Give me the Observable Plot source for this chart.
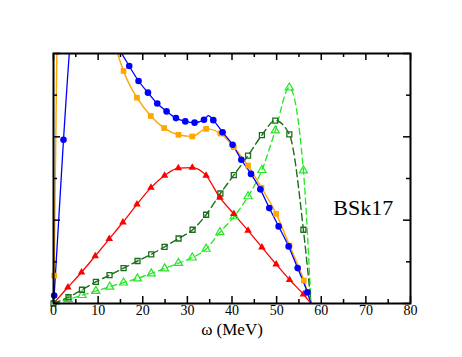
<!DOCTYPE html>
<html><head><meta charset="utf-8">
<script src="https://cdn.jsdelivr.net/npm/d3@7"></script>
<script src="https://cdn.jsdelivr.net/npm/@observablehq/plot@0.6"></script>
<style>body{margin:0;background:#fff}</style>
</head><body><div id="chart"></div>
<script>
// ---- tick values ----
const xMajorTicks = [0, 10, 20, 30, 40, 50, 60, 70, 80];
const xMinorTicks = [5, 15, 25, 35, 45, 55, 65, 75];
const yMajorTicks = [0, 2, 4, 6];
const yMinorTicks = [1, 3, 5];

// ---- series (> 6 lies above the frame) ----
const blueX = [0.15, 2.24, 4.3, 6.4, 8.5, 10.6, 12.7, 14.8, 16.97, 19.06, 21.17, 23.25, 25.34, 27.44, 29.53, 31.61, 33.72, 35.81, 37.89, 40.13, 42.09, 44.26, 46.35, 48.36, 50.45, 52.69, 54.71, 56.88];
const blueY = [0.19, 3.93, 7.0, 8.3, 8.0, 7.3, 6.6, 6.1, 5.70, 5.34, 5.06, 4.80, 4.61, 4.45, 4.37, 4.34, 4.41, 4.40, 4.11, 3.81, 3.45, 3.11, 2.74, 2.29, 1.85, 1.37, 0.85, 0.27];
const blueLineOnlyX = [34.75, 57.7];
const blueLineOnlyY = [4.51, 0];

const orangeX = [0.15, 3.3, 6.4, 9.5, 12.6, 15.7, 18.7, 21.8, 24.8, 28.0, 31.1, 34.2, 37.4, 40.4, 43.6, 46.6, 49.9, 52.9, 56.1];
const orangeY = [0.67, 20, 14, 9.5, 6.8, 5.58, 4.94, 4.50, 4.21, 4.05, 4.01, 4.19, 4.08, 3.75, 3.31, 2.78, 2.15, 1.39, 0.55];
const orangeLineOnlyX = [57.7];
const orangeLineOnlyY = [0];

const redX = [3.23, 6.28, 9.35, 12.49, 15.56, 18.7, 21.84, 24.89, 27.97, 31.1, 34.2, 37.3, 40.4, 43.6, 46.7, 49.9, 52.9, 56.0];
const redY = [0.39, 0.75, 1.14, 1.55, 1.95, 2.38, 2.78, 3.07, 3.25, 3.26, 3.07, 2.54, 2.15, 1.75, 1.35, 0.94, 0.57, 0.22];
const redLineOnlyX = [0, 57.7];
const redLineOnlyY = [0, 0];

const darkGreenX = [0, 3.36, 6.37, 9.5, 12.56, 15.7, 18.83, 21.9, 24.89, 28.03, 31.17, 34.2, 37.4, 40.4, 43.6, 46.7, 49.7, 52.85, 56.0];
const darkGreenY = [0, 0.15, 0.33, 0.52, 0.68, 0.85, 1.02, 1.18, 1.36, 1.56, 1.77, 2.13, 2.64, 3.08, 3.55, 4.04, 4.39, 4.06, 1.77];
const darkGreenLineOnlyX = [57.7];
const darkGreenLineOnlyY = [0];

const lightGreenX = [3.3, 6.4, 9.5, 12.6, 15.7, 18.8, 21.9, 24.9, 28.0, 31.1, 34.2, 37.3, 40.5, 43.6, 46.7, 49.7, 52.85, 56.0];
const lightGreenY = [0.1, 0.2, 0.3, 0.4, 0.5, 0.6, 0.72, 0.84, 0.97, 1.10, 1.31, 1.71, 2.09, 2.57, 3.2, 4.15, 5.18, 3.19];
const lightGreenLineOnlyX = [0, 57.7];
const lightGreenLineOnlyY = [0, 0];

const annotationText = ["BSk17"];
const annotationX = [62.7];
const annotationY = [2.3];
const xLabel = "ω (MeV)";

// ---- helpers ----
const pts = (xs, ys) => xs.map((x, i) => ({x, y: ys[i]}));
const linePts = (xs, ys, ox, oy) => pts(xs, ys).concat(pts(ox, oy)).sort((a, b) => a.x - b.x);

const blueMarks = pts(blueX, blueY);
const blueLine = linePts(blueX, blueY, blueLineOnlyX, blueLineOnlyY);
const orangeMarks = pts(orangeX, orangeY);
const orangeLine = linePts(orangeX, orangeY, orangeLineOnlyX, orangeLineOnlyY);
const redMarks = pts(redX, redY);
const redLine = linePts(redX, redY, redLineOnlyX, redLineOnlyY);
const dgMarks = pts(darkGreenX, darkGreenY);
const dgLine = linePts(darkGreenX, darkGreenY, darkGreenLineOnlyX, darkGreenLineOnlyY);
const lgMarks = pts(lightGreenX, lightGreenY);
const lgLine = linePts(lightGreenX, lightGreenY, lightGreenLineOnlyX, lightGreenLineOnlyY);

const W = 462, H = 357, mL = 53, mR = 52, mT = 53, mB = 54;
const fw = W - mL - mR, fh = H - mT - mB;
const major = 7, minor = 4;
const inside = d => d.y <= 6;

const BLUE = "#0000ff", ORANGE = "#ffa500", RED = "#ff0000", DG = "#1b6e1b", LG = "#22e622";

const chart = Plot.plot({
  width: W, height: H,
  marginLeft: mL, marginRight: mR, marginTop: mT, marginBottom: mB,
  style: {fontFamily: "'Liberation Serif', 'Times New Roman', serif", background: "#fff"},
  x: {domain: [0, 80]},
  y: {domain: [0, 6], axis: null},
  marks: [
    // curves
    Plot.line(lgLine, {x: "x", y: "y", stroke: LG, strokeWidth: 1.3, strokeDasharray: "6,4", curve: "monotone-x", clip: true}),
    Plot.line(dgLine, {x: "x", y: "y", stroke: DG, strokeWidth: 1.4, strokeDasharray: "7,4", curve: "monotone-x", clip: true}),
    Plot.line(redLine, {x: "x", y: "y", stroke: RED, strokeWidth: 1.3, curve: "monotone-x", clip: true}),
    Plot.line(orangeLine, {x: "x", y: "y", stroke: ORANGE, strokeWidth: 1.4, curve: "monotone-x", clip: true}),
    Plot.line(blueLine, {x: "x", y: "y", stroke: BLUE, strokeWidth: 1.3, curve: "monotone-x", clip: true}),
    // markers
    Plot.dot(lgMarks, {x: "x", y: "y", filter: inside, symbol: "triangle", r: 3, stroke: LG, strokeWidth: 1.2, fill: "none"}),
    Plot.dot(dgMarks, {x: "x", y: "y", filter: inside, symbol: "square", r: 2.8, stroke: DG, strokeWidth: 1.3, fill: "none"}),
    Plot.dot(redMarks, {x: "x", y: "y", filter: inside, symbol: "triangle", r: 2.8, fill: RED, stroke: "none"}),
    Plot.dot(orangeMarks, {x: "x", y: "y", filter: inside, symbol: "square", r: 3.2, fill: ORANGE, stroke: "none"}),
    Plot.dot(blueMarks, {x: "x", y: "y", filter: inside, symbol: "circle", r: 3.3, fill: BLUE, stroke: "none"}),
    // inward ticks
    Plot.ruleX(xMajorTicks, {x: d => d, insetTop: fh - major, stroke: "black", strokeWidth: 1.5}),
    Plot.ruleX(xMinorTicks, {x: d => d, insetTop: fh - minor, stroke: "black", strokeWidth: 1.5}),
    Plot.ruleX(xMajorTicks, {x: d => d, insetBottom: fh - major, stroke: "black", strokeWidth: 1.5}),
    Plot.ruleX(xMinorTicks, {x: d => d, insetBottom: fh - minor, stroke: "black", strokeWidth: 1.5}),
    Plot.ruleY(yMajorTicks, {y: d => d, insetRight: fw - major, stroke: "black", strokeWidth: 1.5}),
    Plot.ruleY(yMinorTicks, {y: d => d, insetRight: fw - minor, stroke: "black", strokeWidth: 1.5}),
    Plot.ruleY(yMajorTicks, {y: d => d, insetLeft: fw - major, stroke: "black", strokeWidth: 1.5}),
    Plot.ruleY(yMinorTicks, {y: d => d, insetLeft: fw - minor, stroke: "black", strokeWidth: 1.5}),
    Plot.frame({stroke: "black", strokeWidth: 2}),
    // tick labels and titles
    Plot.axisX({ticks: xMajorTicks, tickSize: 0, tickPadding: 2, fontSize: 14, label: null, tickFormat: d => String(d), fill: "black"}),
    Plot.text([xLabel], {frameAnchor: "bottom", dy: 31, fontSize: 17, fill: "black"}),
    Plot.text(annotationText, {x: annotationX, y: annotationY, text: d => d, textAnchor: "start", fontSize: 22, fill: "black"})
  ]
});
document.getElementById("chart").appendChild(chart);
</script>
</body></html>
